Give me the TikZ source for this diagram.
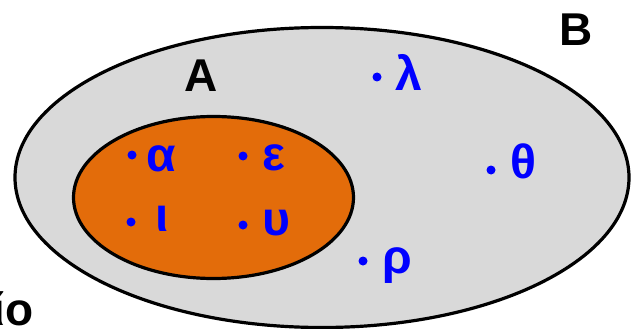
\documentclass[tikz,border=0pt]{standalone}
\usepackage{fontspec}
\setmainfont{Liberation Sans}
\usetikzlibrary{calc}
\definecolor{setB}{HTML}{D9D9D9}
\definecolor{setA}{HTML}{E36C0A}
\definecolor{elt}{HTML}{0000FF}
\tikzset{
  dot/.style={circle,fill=elt,inner sep=0pt,minimum size=9pt},
  elem/.style={text=elt,inner sep=0pt,font=\fontsize{48}{48}\selectfont\bfseries},
  setname/.style={inner sep=0pt,font=\fontsize{46}{46}\selectfont\bfseries},
}
% dot name, dot position, label position, letter
\newcommand{\elemat}[4]{%
  \node[dot] (#1dot) at (#2) {};
  \node[elem] (#1) at (#3) {#4};
}

\begin{document}
\begin{tikzpicture}[x=1pt,y=-1pt]
\useasboundingbox (0,0) rectangle (635,329);
\draw[fill=setB,line width=3.2pt] (322,177.5) ellipse [x radius=307pt,y radius=150pt];
\draw[fill=setA,line width=3.2pt] (213.5,197.5) ellipse [x radius=140pt,y radius=81pt];
\node[setname] (A) at (201,75.5) {A};
\node[setname] (B) at (576,30) {B};
\elemat{alpha}{132,155}{161.5,158.5}{α}
\elemat{eps}{243,156}{273.5,158}{ε}
\elemat{iota}{131,222}{162,219}{ι}
\elemat{ups}{243,225}{276.5,223.5}{υ}
\elemat{lam}{377,77}{408.5,72.5}{λ}
\elemat{theta}{491,170}{523,161.5}{θ}
\elemat{rho}{363,261}{397.5,265.5}{ρ}
\node[setname,anchor=base east] (caption) at (34,325) {ίο};
\end{tikzpicture}
\end{document}
